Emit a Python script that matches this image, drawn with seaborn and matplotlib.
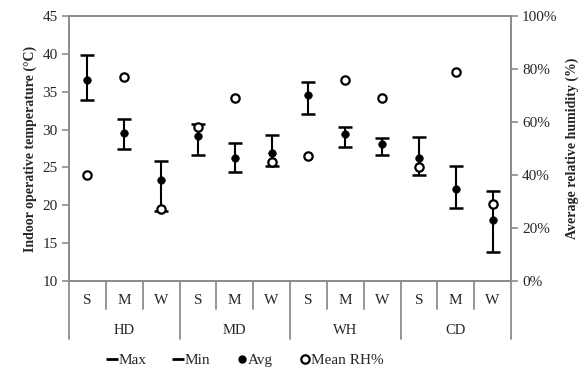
import pandas as pd
import numpy as np
import seaborn as sns
import matplotlib.pyplot as plt
import matplotlib.transforms as mtransforms
from matplotlib.lines import Line2D

# data
zones = ["HD", "MD", "WH", "CD"]
seasons = ["S", "M", "W"]
t_max = [39.8, 31.4, 25.8, 30.7, 28.2, 29.3, 36.3, 30.3, 28.9, 29.0, 25.2, 21.9]
t_min = [33.9, 27.4, 19.2, 26.7, 24.4, 25.2, 32.0, 27.7, 26.6, 24.0, 19.7, 13.8]
t_avg = [36.5, 29.6, 23.4, 29.1, 26.2, 26.9, 34.6, 29.4, 28.1, 26.3, 22.1, 18.0]
rh_mean = [40, 77, 27, 58, 69, 45, 47, 76, 69, 43, 79, 29]

labels = [s for z in zones for s in seasons]
df = pd.DataFrame({"pos": np.arange(len(labels)), "lab": labels,
                   "tmax": t_max, "tmin": t_min, "tavg": t_avg, "rh": rh_mean})

sns.set_theme(style="white")
plt.rcParams["font.family"] = ["Liberation Serif", "DejaVu Serif"]
plt.rcParams["font.size"] = 10.5

fig, ax = plt.subplots(figsize=(5.85, 3.7), dpi=100)
fig.subplots_adjust(left=0.118, right=0.8735, top=0.957, bottom=0.2405)
ax2 = ax.twinx()

grey = "#8c8c8c"

# max/min range with caps
mid = (df["tmax"] + df["tmin"]) / 2
ax.errorbar(df["pos"], mid, yerr=(df["tmax"] - df["tmin"]) / 2, fmt="none",
            ecolor="black", elinewidth=1.5, capsize=5, capthick=1.8, zorder=3)
sns.scatterplot(data=df, x="pos", y="tavg", ax=ax, color="black", s=30,
                edgecolor="black", zorder=4, legend=False)
sns.scatterplot(data=df, x="pos", y="rh", ax=ax2, facecolor="white", s=36,
                edgecolor="black", linewidth=1.6, zorder=5, legend=False)

ax.set_xlim(-0.5, 11.5)
ax.set_ylim(10, 45)
ax.set_yticks(range(10, 46, 5))
ax2.set_ylim(0, 100)
ax2.set_yticks(range(0, 101, 20))
ax2.set_yticklabels([f"{v}%" for v in range(0, 101, 20)])
ax.set_xticks(df["pos"])
ax.set_xticklabels(df["lab"])
ax.set_xlabel("")

ax.set_ylabel("Indoor operative temperature (°C)", fontweight="bold", fontsize=10)
ax2.set_ylabel("Average relative humidity (%)", fontweight="bold", fontsize=10, labelpad=6)

for a in (ax, ax2):
    for sp in a.spines.values():
        sp.set_color(grey)
        sp.set_linewidth(1.3)
ax.tick_params(axis="x", length=0, pad=9)
ax.tick_params(axis="y", direction="out", length=5, width=1.2, color=grey, pad=3, left=True)
ax2.tick_params(axis="y", direction="out", length=5, width=1.2, color=grey, pad=3, right=True)

# category separators below the axis
trans = mtransforms.blended_transform_factory(ax.transData, ax.transAxes)
for i in range(13):
    x = i - 0.5
    y_end = -0.219 if i % 3 == 0 else -0.106
    ax.plot([x, x], [0, y_end], color=grey, lw=1.3, transform=trans, clip_on=False)
for j, z in enumerate(zones):
    ax.text(j * 3 + 1, -0.185, z, transform=trans, ha="center", va="center")

handles = [
    Line2D([], [], color="black", marker="_", linestyle="none", markersize=8, markeredgewidth=2),
    Line2D([], [], color="black", marker="_", linestyle="none", markersize=8, markeredgewidth=2),
    Line2D([], [], color="black", marker="o", linestyle="none", markersize=5),
    Line2D([], [], color="black", marker="o", markerfacecolor="white", linestyle="none",
           markersize=6, markeredgewidth=1.6),
]
fig.legend(handles, ["Max", "Min", "Avg", "Mean RH%"], loc="center", ncol=4,
           bbox_to_anchor=(0.42, 0.027), frameon=False, handlelength=0.6,
           handletextpad=0.1, columnspacing=1.8, fontsize=11)

plt.savefig("out.png", dpi=100)
plt.close()
